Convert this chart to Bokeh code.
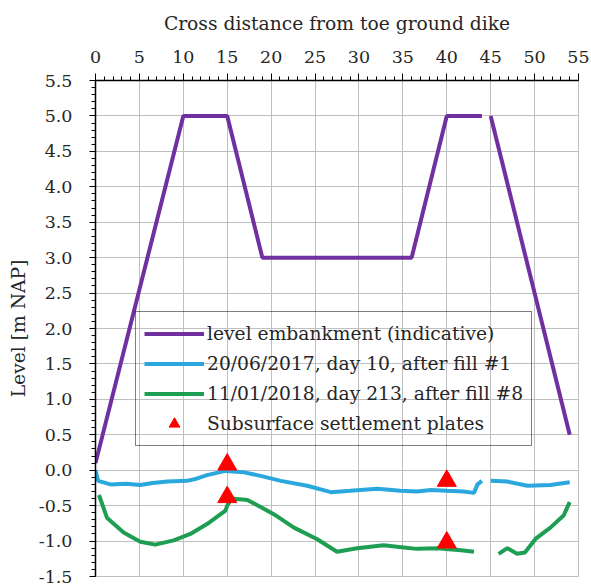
from bokeh.plotting import figure
from bokeh.models import Range1d, FixedTicker, PrintfTickFormatter, Legend, LegendItem
from bokeh.embed import file_html
from bokeh.resources import INLINE

nan = float("nan")

# Embankment (indicative) profile
emb_x = [0, 10, 15, 19, 36, 40, 44, nan, 45, 54]
emb_y = [0.1, 5.0, 5.0, 3.0, 3.0, 5.0, 5.0, nan, 5.0, 0.5]

# 20/06/2017, day 10, after fill #1
d10_x = [0.0, 0.3, 1.7, 3.5, 5.1, 6.5, 8.2, 10.4, 11.5, 12.7, 14.8, 16.9, 18.8,
         21.1, 24.1, 26.8, 29.0, 32.1, 34.7, 36.6, 38.2, 40.0, 41.9, 43.1, 43.5, 44.0,
         nan, 45.0, 46.9, 49.2, 51.8, 54.0]
d10_y = [0.0, -0.15, -0.20, -0.19, -0.21, -0.18, -0.16, -0.15, -0.12, -0.07, -0.01, -0.03, -0.08,
         -0.15, -0.22, -0.31, -0.29, -0.26, -0.29, -0.30, -0.28, -0.29, -0.30, -0.32, -0.20, -0.15,
         nan, -0.15, -0.16, -0.22, -0.21, -0.17]

# 11/01/2018, day 213, after fill #8
d213_x = [0.4, 1.3, 3.2, 5.1, 6.8, 8.9, 10.8, 12.7, 14.8, 15.0, 15.5, 17.3, 18.8,
          20.3, 22.6, 25.2, 27.5, 29.8, 32.8, 35.1, 36.6, 38.9, 41.6, 43.1,
          nan, 45.9, 46.9, 48.0, 48.9, 50.1, 51.8, 53.3, 54.0]
d213_y = [-0.35, -0.67, -0.88, -1.01, -1.05, -0.99, -0.90, -0.76, -0.57, -0.50, -0.40, -0.42, -0.52,
          -0.62, -0.81, -0.97, -1.15, -1.10, -1.06, -1.09, -1.11, -1.10, -1.13, -1.15,
          nan, -1.18, -1.10, -1.18, -1.16, -0.97, -0.81, -0.64, -0.45]

# Subsurface settlement plates
plate_x = [15, 15, 40, 40]
plate_y = [0.08, -0.38, -0.15, -1.02]

x_ticks = list(range(0, 56, 5))
x_minor = list(range(0, 56))
y_ticks = [round(-1.5 + 0.5 * i, 1) for i in range(15)]
y_minor = [round(-1.5 + 0.1 * i, 1) for i in range(71)]

FONT = "DejaVu Serif"

p = figure(width=591, height=588, output_backend="svg", toolbar_location=None,
           x_range=Range1d(0, 55), y_range=Range1d(-1.5, 5.5),
           x_axis_location="above",
           min_border_left=95, min_border_right=13, min_border_top=80, min_border_bottom=12)

p.outline_line_color = "#BFBFBF"
p.background_fill_color = "white"

# axes
xa = p.xaxis[0]
xa.ticker = FixedTicker(ticks=x_ticks, minor_ticks=x_minor)
xa.axis_label = "Cross distance from toe ground dike"
xa.major_tick_out = 7
xa.major_tick_in = 0
xa.minor_tick_out = 4
xa.minor_tick_in = 0
xa.major_label_standoff = 11
xa.axis_label_standoff = 14

ya = p.yaxis[0]
ya.ticker = FixedTicker(ticks=y_ticks, minor_ticks=y_minor)
ya.formatter = PrintfTickFormatter(format="%.1f")
ya.axis_label = "Level [m NAP]"
ya.major_tick_out = 6
ya.major_tick_in = 0
ya.minor_tick_out = 4
ya.minor_tick_in = 0
ya.major_label_standoff = 17
ya.axis_label_standoff = 7

for ax in (xa, ya):
    ax.axis_line_color = "black"
    ax.axis_line_width = 1.5
    ax.major_tick_line_color = "black"
    ax.minor_tick_line_color = "black"
    ax.major_label_text_font = FONT
    ax.major_label_text_font_size = "17.5px"
    ax.major_label_text_color = "#262626"
    ax.axis_label_text_font = FONT
    ax.axis_label_text_font_size = "18.7px"
    ax.axis_label_text_font_style = "normal"
    ax.axis_label_text_color = "#262626"

p.xgrid.ticker = FixedTicker(ticks=x_ticks)
p.ygrid.ticker = FixedTicker(ticks=y_ticks)
p.xgrid.grid_line_color = "#BFBFBF"
p.ygrid.grid_line_color = "#BFBFBF"

r_emb = p.line(emb_x, emb_y, line_color="#7030A0", line_width=4)
r_d10 = p.line(d10_x, d10_y, line_color="#2AA8DE", line_width=4)
r_d213 = p.line(d213_x, d213_y, line_color="#1E9E52", line_width=4)
r_pl = p.scatter(plate_x, plate_y, marker="triangle", size=19, fill_color="#FF0000",
                 line_color="#FF0000")

legend = Legend(items=[
    LegendItem(label="level embankment (indicative)", renderers=[r_emb]),
    LegendItem(label="20/06/2017, day 10, after fill #1", renderers=[r_d10]),
    LegendItem(label="11/01/2018, day 213, after fill #8", renderers=[r_d213]),
    LegendItem(label="Subsurface settlement plates", renderers=[r_pl]),
], location=(40, 130), padding=8, spacing=3, label_height=27, glyph_height=27,
    glyph_width=60, label_standoff=3, border_line_color="black", border_line_width=1,
    background_fill_alpha=0, label_text_font=FONT, label_text_font_size="18.7px",
    label_text_color="#262626")
p.add_layout(legend)

open("out.html", "w").write(file_html(p, INLINE))
